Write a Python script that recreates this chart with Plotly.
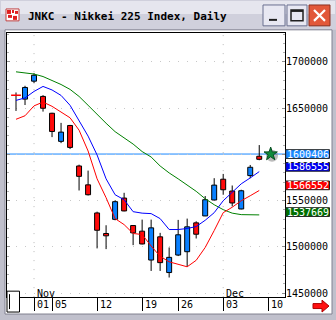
import plotly.graph_objects as go

# ---------------- data ----------------
dates = ['10/30', '10/31', '11/01', '11/02', '11/05', '11/06', '11/07', '11/08', '11/09',
         '11/12', '11/13', '11/14', '11/15', '11/16', '11/19', '11/20', '11/21', '11/22',
         '11/26', '11/27', '11/28', '11/29', '11/30', '12/03', '12/04', '12/05', '12/06', '12/07']
opens = [1664100, 1659800, 1679200, 1662700, 1644500, 1614100, 1631300, 1587500, 1567100,
         1536700, 1514500, 1529800, 1552800, 1523100, 1517000, 1485800, 1510900, 1472300,
         1491200, 1494800, 1526000, 1533500, 1550700, 1573200, 1560400, 1541000, 1577100, 1598000]
highs = [1667000, 1674200, 1687800, 1664100, 1645000, 1634100, 1631900, 1588900, 1582500,
         1538100, 1523400, 1550300, 1558500, 1523500, 1529500, 1529500, 1515200, 1499400,
         1529200, 1530600, 1527700, 1555000, 1574300, 1578900, 1566400, 1561800, 1588600, 1610100]
lows = [1647000, 1653400, 1677000, 1646300, 1618700, 1612200, 1605800, 1561000, 1555600,
        1498400, 1497600, 1528800, 1538500, 1501900, 1502700, 1474000, 1474000, 1466900,
        1490100, 1478700, 1509100, 1533300, 1550500, 1556400, 1543800, 1540600, 1574300, 1593700]
closes = [1664100, 1672400, 1685600, 1649900, 1624800, 1624100, 1607600, 1576300, 1556400,
          1518000, 1512000, 1548900, 1538900, 1515200, 1503200, 1520600, 1483000, 1488700,
          1513100, 1521700, 1513700, 1551000, 1566800, 1561800, 1547500, 1560700, 1586100, 1594700]

ma_green = [1689300, 1688200, 1686900, 1684200, 1679900, 1675600, 1670300, 1662700, 1653100,
            1642900, 1633700, 1624600, 1617600, 1611200, 1603100, 1597200, 1587500, 1580000,
            1573600, 1567100, 1560100, 1552100, 1545600, 1540300, 1536500, 1534900, 1534600, 1534600]
ma_blue = [1658400, 1661100, 1668100, 1673500, 1669700, 1663800, 1653100, 1637000, 1619800,
           1599400, 1573600, 1556400, 1551000, 1538100, 1536500, 1536000, 1530600, 1518800,
           1518800, 1519900, 1522000, 1528800, 1537000, 1549900, 1559600, 1568200, 1574600, 1581400]
ma_red = [1638000, 1641800, 1652500, 1656600, 1652000, 1646100, 1639600, 1626200, 1603700,
          1573600, 1553200, 1530600, 1524100, 1514500, 1513400, 1501000, 1489800, 1483900,
          1481200, 1478500, 1485500, 1499400, 1517700, 1537000, 1542900, 1549900, 1555300, 1561000]

last_price = 1600406
label_values = [1600406, 1586555, 1566552, 1537669]
label_colors = ['#1a88ff', '#0000f0', '#ff0000', '#007000']

y_ticks = [1450000, 1500000, 1550000, 1600000, 1650000, 1700000]
axis_days = dates + ['12/10']
x_tick_days = ['11/01', '11/05', '11/12', '11/19', '11/26', '12/03', '12/10']
x_tick_text = ['01', '05', '12', '19', '26', '03', '10']
month_days = ['11/01', '12/03']
month_text = ['Nov', 'Dec']
title_text = 'JNKC - Nikkei 225 Index, Daily'

# ---------------- helpers ----------------
W, H = 336, 320
def PX(x):
    return x / W
def PY(y):
    return 1 - y / H

pos = {d: i for i, d in enumerate(axis_days)}
idx = list(range(len(dates)))

up = [i for i in idx if closes[i] > opens[i]]
dn = [i for i in idx if closes[i] < opens[i]]
dj = [i for i in idx if closes[i] == opens[i]]

fig = go.Figure()

# wicks (split so body stays on top)
wx, wy = [], []
for i in idx:
    top = max(opens[i], closes[i]); bot = min(opens[i], closes[i])
    wx += [i, i, None, i, i, None]
    wy += [highs[i], top, None, bot, lows[i], None]
fig.add_trace(go.Scatter(x=wx, y=wy, mode='lines', line=dict(color='black', width=1),
                         hoverinfo='skip', showlegend=False))

# moving averages
fig.add_trace(go.Scatter(x=idx, y=ma_green, mode='lines', line=dict(color='#008000', width=1), showlegend=False))
fig.add_trace(go.Scatter(x=idx, y=ma_blue, mode='lines', line=dict(color='#0000ff', width=1), showlegend=False))
fig.add_trace(go.Scatter(x=idx, y=ma_red, mode='lines', line=dict(color='#ff0000', width=1), showlegend=False))

# candle bodies
fig.add_trace(go.Bar(x=up, base=[opens[i] for i in up], y=[closes[i] - opens[i] for i in up],
                     width=0.55, marker=dict(color='#0a80ff', line=dict(color='black', width=1)),
                     showlegend=False))
fig.add_trace(go.Bar(x=dn, base=[closes[i] for i in dn], y=[opens[i] - closes[i] for i in dn],
                     width=0.55, marker=dict(color='#ff0a0a', line=dict(color='black', width=1)),
                     showlegend=False))
fig.add_trace(go.Scatter(x=dj, y=[closes[i] for i in dj], mode='markers',
                         marker=dict(symbol='line-ew', size=7, line=dict(color='#ff0000', width=1.5)),
                         showlegend=False))

# star marker on the last price line
star_x = len(dates) - 1 + 1.27
fig.add_trace(go.Scatter(x=[star_x + 0.15], y=[last_price - 1800], mode='markers',
                         marker=dict(symbol='circle', size=12, color='rgba(60,60,60,0.35)'),
                         showlegend=False, hoverinfo='skip'))
fig.add_trace(go.Scatter(x=[star_x], y=[last_price], mode='markers',
                         marker=dict(symbol='star', size=10, color='#0f8a3c',
                                     line=dict(color='#064d20', width=1)),
                         showlegend=False, hoverinfo='skip'))

shapes = []
# window chrome
shapes.append(dict(type='rect', xref='paper', yref='paper', x0=0, x1=1, y0=PY(30), y1=1,
                   fillcolor='#d0d0dc', line=dict(width=0), layer='below'))
shapes.append(dict(type='rect', xref='paper', yref='paper', x0=PX(1), x1=PX(335), y0=PY(14), y1=PY(1),
                   fillcolor='#e6e6ee', line=dict(width=0), layer='below'))
shapes.append(dict(type='rect', xref='paper', yref='paper', x0=PX(5), x1=PX(332), y0=PY(316), y1=PY(30),
                   fillcolor='white', line=dict(color='#808090', width=1), layer='below'))
# icon
shapes.append(dict(type='rect', xref='paper', yref='paper', x0=PX(6), x1=PX(19), y0=PY(21), y1=PY(9),
                   fillcolor='white', line=dict(color='#c04040', width=1), layer='above'))
for (a, b, c, d) in [(7, 10, 11, 14), (12, 10, 14, 13), (15, 11, 18, 14), (8, 15, 12, 18), (13, 16, 17, 20)]:
    shapes.append(dict(type='rect', xref='paper', yref='paper', x0=PX(a), x1=PX(c), y0=PY(d), y1=PY(b),
                       fillcolor='#e02020', line=dict(width=0), layer='above'))
# buttons
for (a, c, fill, edge) in [(263, 285, '#e8e8f2', '#6a7090'), (287, 307, '#e8e8f2', '#6a7090'),
                           (309, 330, '#e2583a', '#8a3020')]:
    shapes.append(dict(type='rect', xref='paper', yref='paper', x0=PX(a), x1=PX(c), y0=PY(26), y1=PY(5),
                       fillcolor=fill, line=dict(color=edge, width=1), layer='above'))
shapes.append(dict(type='rect', xref='paper', yref='paper', x0=PX(269), x1=PX(277), y0=PY(21), y1=PY(19),
                   fillcolor='#202020', line=dict(width=0), layer='above'))
shapes.append(dict(type='rect', xref='paper', yref='paper', x0=PX(291), x1=PX(303), y0=PY(21), y1=PY(10),
                   fillcolor='rgba(0,0,0,0)', line=dict(color='#202020', width=1.5), layer='above'))
shapes.append(dict(type='line', xref='paper', yref='paper', x0=PX(291), x1=PX(303), y0=PY(11), y1=PY(11),
                   line=dict(color='#202020', width=2), layer='above'))
shapes.append(dict(type='line', xref='paper', yref='paper', x0=PX(314), x1=PX(325), y0=PY(10), y1=PY(21),
                   line=dict(color='white', width=2.2), layer='above'))
shapes.append(dict(type='line', xref='paper', yref='paper', x0=PX(314), x1=PX(325), y0=PY(21), y1=PY(10),
                   line=dict(color='white', width=2.2), layer='above'))
# scroll box, bottom-left
shapes.append(dict(type='rect', xref='paper', yref='paper', x0=PX(7), x1=PX(19.5), y0=PY(314), y1=PY(293),
                   fillcolor='white', line=dict(color='black', width=1), layer='above'))
shapes.append(dict(type='line', xref='paper', yref='paper', x0=PX(9.5), x1=PX(9.5), y0=PY(311), y1=PY(296),
                   line=dict(color='black', width=1), layer='above'))
# red arrow bottom-right
ax0, ay0 = 313, 308
arrow = (f"M {PX(ax0)} {PY(ay0-2.5)} L {PX(ax0+9)} {PY(ay0-2.5)} L {PX(ax0+9)} {PY(ay0-6)} "
         f"L {PX(ax0+16)} {PY(ay0)} L {PX(ax0+9)} {PY(ay0+6)} L {PX(ax0+9)} {PY(ay0+2.5)} "
         f"L {PX(ax0)} {PY(ay0+2.5)} Z")
shapes.append(dict(type='path', xref='paper', yref='paper', path=arrow, fillcolor='#ff1010',
                   line=dict(color='#b00000', width=1), layer='above'))

# month separator dotted lines
for d in month_days:
    shapes.append(dict(type='line', xref='x', yref='y domain', x0=pos[d], x1=pos[d], y0=0, y1=1,
                       line=dict(color='#b8b8b8', width=1, dash='1px,8px'), layer='below'))
# last price line
shapes.append(dict(type='line', xref='x domain', yref='y', x0=0, x1=1, y0=last_price, y1=last_price,
                   line=dict(color='#1a88ff', width=1), layer='below'))
# value boxes
for v, c in zip(label_values, label_colors):
    shapes.append(dict(type='rect', xref='paper', yref='y', x0=PX(285.7), x1=PX(329.5),
                       y0=v - 4700, y1=v + 4700, fillcolor=c, line=dict(color='#202020', width=1),
                       layer='above'))

annotations = []
annotations.append(dict(xref='paper', yref='paper', x=PX(26), y=PY(16.5), xanchor='left', yanchor='middle',
                        text=f'<b>{title_text}</b>', showarrow=False,
                        font=dict(family='DejaVu Sans Mono', size=11, color='black')))
for v in label_values:
    annotations.append(dict(xref='paper', yref='y', x=PX(307.6), y=v, xanchor='center', yanchor='middle',
                            text=str(v), showarrow=False, borderpad=0,
                            font=dict(family='DejaVu Sans Mono', size=10, color='white')))
for d, t in zip(x_tick_days, x_tick_text):
    annotations.append(dict(xref='x', yref='paper', x=pos[d], y=PY(306), xanchor='left', yanchor='middle',
                            xshift=1, text=t, showarrow=False,
                            font=dict(family='DejaVu Sans Mono', size=10, color='black')))
for d, t in zip(month_days, month_text):
    annotations.append(dict(xref='x', yref='paper', x=pos[d], y=PY(295), xanchor='left', yanchor='middle',
                            xshift=1, text=t, showarrow=False,
                            font=dict(family='DejaVu Sans Mono', size=10, color='black')))

fig.update_layout(
    width=W, height=H, margin=dict(l=0, r=0, t=0, b=0),
    paper_bgcolor='#c0c0cc', plot_bgcolor='white',
    barmode='overlay', showlegend=False,
    shapes=shapes, annotations=annotations,
    xaxis=dict(domain=[PX(7), PX(285)], range=[-1, 29.86],
               tickmode='array', tickvals=[pos[d] for d in x_tick_days],
               ticks='outside', ticklen=13, tickcolor='black', tickwidth=1,
               showticklabels=False, showgrid=False, zeroline=False,
               showline=True, linecolor='black', linewidth=1, mirror=True, fixedrange=True),
    yaxis=dict(domain=[PY(299), PY(33)], range=[1445700, 1731500], side='right',
               tickmode='array', tickvals=y_ticks, tickformat='d',
               ticks='inside', ticklen=3, tickcolor='#909090', ticklabelstandoff=-2,
               minor=dict(tick0=1450000, dtick=10000, ticks='inside', ticklen=2,
                          tickcolor='#b0b0b0', showgrid=False),
               showgrid=True, gridcolor='#c8c8c8', griddash='1px,8px',
               zeroline=False, showline=True, linecolor='black', linewidth=1, mirror='allticks',
               tickfont=dict(family='DejaVu Sans Mono', size=10, color='black'), fixedrange=True),
)

fig.write_html('out.html')
